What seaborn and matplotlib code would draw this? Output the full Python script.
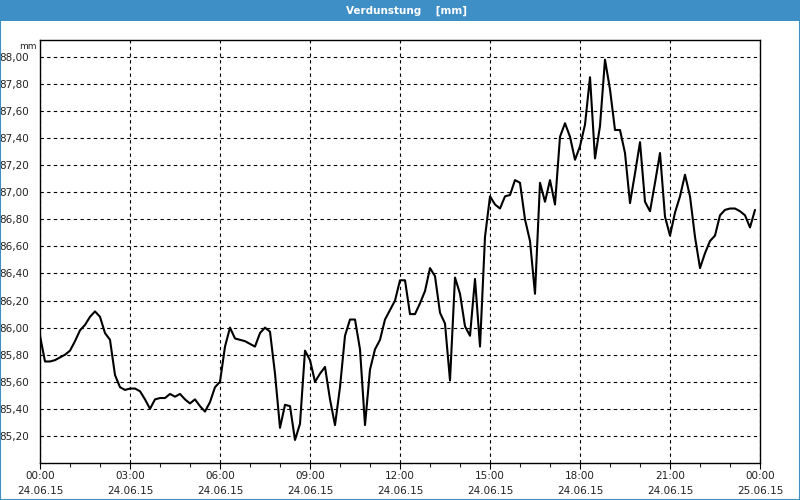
import matplotlib
matplotlib.use("Agg")
import matplotlib.pyplot as plt
import matplotlib.dates as mdates
import matplotlib.ticker as mticker
from matplotlib.patches import Rectangle
import seaborn as sns
import pandas as pd

# ---- data (10-minute samples, 24.06.15 00:00 .. 23:50) ----
start_time = "2015-06-24 00:00"
step = "10min"
values = [
    85.94, 85.75, 85.75, 85.76, 85.78, 85.80, 85.83, 85.90, 85.98, 86.02,
    86.08, 86.12, 86.08, 85.96, 85.91, 85.65, 85.56, 85.54, 85.55, 85.55,
    85.53, 85.47, 85.40, 85.47, 85.48, 85.48, 85.51, 85.49, 85.51, 85.47,
    85.44, 85.47, 85.42, 85.38, 85.45, 85.56, 85.60,
    85.86, 86.00, 85.92, 85.91, 85.90, 85.88, 85.86, 85.96, 86.00, 85.97,
    85.66, 85.26, 85.43, 85.42, 85.17, 85.29, 85.83, 85.76, 85.60, 85.66,
    85.71, 85.47, 85.28, 85.56, 85.94, 86.06, 86.06, 85.84, 85.28, 85.69,
    85.84, 85.91, 86.06, 86.13, 86.20, 86.35,
    86.35, 86.10, 86.10, 86.18, 86.27, 86.44, 86.38, 86.11, 86.03, 85.61,
    86.37, 86.25, 86.01, 85.94, 86.36, 85.86, 86.67, 86.97, 86.91, 86.88,
    86.97, 86.98, 87.09, 87.07, 86.80, 86.64, 86.25, 87.07, 86.93, 87.09,
    86.91, 87.41, 87.51, 87.41, 87.24, 87.34, 87.50, 87.85, 87.25, 87.49,
    87.98, 87.76, 87.46, 87.46, 87.29, 86.92, 87.14, 87.37, 86.93, 86.86,
    87.07, 87.29, 86.82, 86.68, 86.85, 86.97, 87.13, 86.97, 86.67, 86.44,
    86.55, 86.64, 86.68, 86.83, 86.87, 86.88, 86.88, 86.86, 86.83, 86.74,
    86.87,
]
y_ticks = [85.20, 85.40, 85.60, 85.80, 86.00, 86.20, 86.40, 86.60, 86.80,
           87.00, 87.20, 87.40, 87.60, 87.80, 88.00]
title_text = "Verdunstung    [mm]"
unit_text = "mm"

times = pd.date_range(start_time, periods=len(values), freq=step)
df = pd.DataFrame({"time": times, "value": values})

sns.set_theme(style="white")
plt.rcParams["font.family"] = ["DejaVu Sans"]

fig = plt.figure(figsize=(8, 5), dpi=100)
fig.patch.set_facecolor("white")
ax = fig.add_axes([40 / 800, 1 - 463 / 500, 720 / 800, 423 / 500])
ax.set_facecolor("white")

sns.lineplot(data=df, x="time", y="value", ax=ax, color="black", linewidth=1.5)

ax.set_xlim(pd.Timestamp("2015-06-24 00:00"), pd.Timestamp("2015-06-25 00:00"))
ax.set_ylim(85.0, 88.125)
ax.set_yticks(y_ticks)
ax.yaxis.set_major_formatter(mticker.FuncFormatter(lambda v, p: f"{v:.2f}".replace(".", ",")))
ax.xaxis.set_major_locator(mdates.HourLocator(byhour=range(0, 24, 3)))
ax.xaxis.set_minor_locator(mdates.HourLocator())
ax.xaxis.set_major_formatter(mdates.DateFormatter("%H:%M\n%d.%m.%y"))

ax.set_xlabel("")
ax.set_ylabel("")
ax.grid(True, which="major", color="black", linestyle=(0, (3, 3)), linewidth=0.8)
for s in ax.spines.values():
    s.set_color("black")
    s.set_linewidth(1.0)

ax.tick_params(axis="y", which="both", left=False, labelsize=7.5, pad=2, colors="#222222")
ax.tick_params(axis="x", which="major", bottom=True, length=4, width=0.8, direction="out",
               labelsize=7.5, pad=2, colors="black")
ax.tick_params(axis="x", which="minor", bottom=True, length=3, width=0.8, direction="out")
for lbl in ax.get_xticklabels():
    lbl.set_linespacing(1.55)
    lbl.set_color("#222222")

ax.text(-0.005, 0.985, unit_text, transform=ax.transAxes, ha="right", va="center",
        fontsize=6.5, color="#222222")

# window frame and title bar
blue = "#3d8fc6"
fig.patches.append(Rectangle((0, 1 - 21 / 500), 1, 21 / 500, transform=fig.transFigure,
                             facecolor=blue, edgecolor="none", zorder=0))
fig.patches.append(Rectangle((0.0006, 0.001), 0.9988, 0.998, transform=fig.transFigure,
                             facecolor="none", edgecolor=blue, linewidth=1.5, zorder=5))
fig.text(407 / 800, 1 - 10.5 / 500, title_text, ha="center", va="center",
         color="white", fontsize=7.5, fontweight="bold")

fig.savefig("out.png", dpi=100, facecolor=fig.get_facecolor())
